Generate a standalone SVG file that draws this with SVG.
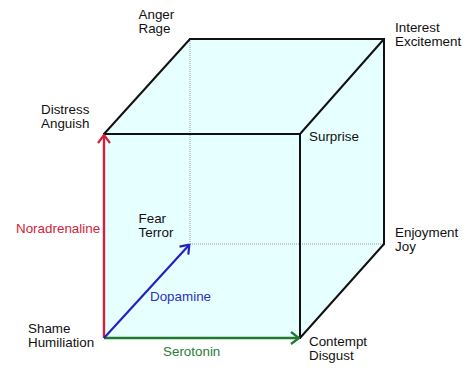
<svg xmlns="http://www.w3.org/2000/svg" width="468" height="371" viewBox="0 0 468 371">
<style>
text{font-family:"Liberation Sans",Arial,sans-serif;font-size:13.4px;fill:#111}
.edge{stroke:#111;stroke-width:2;fill:none;stroke-linecap:round;stroke-linejoin:round}
.hidden{stroke:#9a9a9a;stroke-width:1;stroke-dasharray:1,1;fill:none}
.red{fill:#d0243a}
.blue{fill:#3030c0}
.green{fill:#2a7d36}
</style>
<defs>
<marker id="ahR" viewBox="0 0 10 14" refX="9" refY="7" markerWidth="10" markerHeight="14" markerUnits="userSpaceOnUse" orient="auto">
<path d="M1,1 L9,7 L1,13" fill="none" stroke="#d61f3a" stroke-width="2.2"/>
</marker>
<marker id="ahB" viewBox="0 0 10 14" refX="9" refY="7" markerWidth="10" markerHeight="14" markerUnits="userSpaceOnUse" orient="auto">
<path d="M1,1 L9,7 L1,13" fill="none" stroke="#2222c4" stroke-width="2.2"/>
</marker>
<marker id="ahG" viewBox="0 0 10 14" refX="9" refY="7" markerWidth="10" markerHeight="14" markerUnits="userSpaceOnUse" orient="auto">
<path d="M1,1 L9,7 L1,13" fill="none" stroke="#1f7a2f" stroke-width="2.2"/>
</marker>
</defs>
<polygon points="104,134 190,39 384,39 384,244 300,338 104,338" fill="#e6ffff"/>
<g id="connectors">
<line class="hidden" x1="190" y1="39" x2="190" y2="244"/>
<line class="hidden" x1="190" y1="244" x2="384" y2="244"/>
<line class="edge" x1="104" y1="134" x2="300" y2="134"/>
<line class="edge" x1="300" y1="134" x2="300" y2="338"/>
<line class="edge" x1="190" y1="39" x2="384" y2="39"/>
<line class="edge" x1="384" y1="39" x2="384" y2="244"/>
<line class="edge" x1="104" y1="134" x2="190" y2="39"/>
<line class="edge" x1="300" y1="134" x2="384" y2="39"/>
<line class="edge" x1="300" y1="338" x2="384" y2="244"/>
<line x1="104" y1="338" x2="104" y2="135" stroke="#d61f3a" stroke-width="2.4" marker-end="url(#ahR)"/>
<line x1="104" y1="338" x2="299" y2="338" stroke="#1f7a2f" stroke-width="2.4" marker-end="url(#ahG)"/>
<line x1="104" y1="338" x2="189.3" y2="244.7" stroke="#2222c4" stroke-width="2.2" marker-end="url(#ahB)"/>
<text class="red" x="16" y="233">Noradrenaline</text>
<text class="blue" x="150" y="301">Dopamine</text>
<text class="green" x="163" y="356">Serotonin</text>
</g>
<g id="anger"><text x="138.5" y="19">Anger</text><text x="138.5" y="32.5">Rage</text></g>
<g id="distress"><text x="41" y="114">Distress</text><text x="41" y="127.5">Anguish</text></g>
<g id="interest"><text x="395" y="32">Interest</text><text x="395" y="45.5">Excitement</text></g>
<g id="surprise"><text x="309" y="141">Surprise</text></g>
<g id="fear"><text x="138.5" y="223">Fear</text><text x="138.5" y="237">Terror</text></g>
<g id="enjoyment"><text x="395" y="236.5">Enjoyment</text><text x="395" y="250.5">Joy</text></g>
<g id="shame"><text x="28" y="332.5">Shame</text><text x="28" y="346.5">Humiliation</text></g>
<g id="contempt"><text x="309" y="346">Contempt</text><text x="309" y="360">Disgust</text></g>
</svg>
